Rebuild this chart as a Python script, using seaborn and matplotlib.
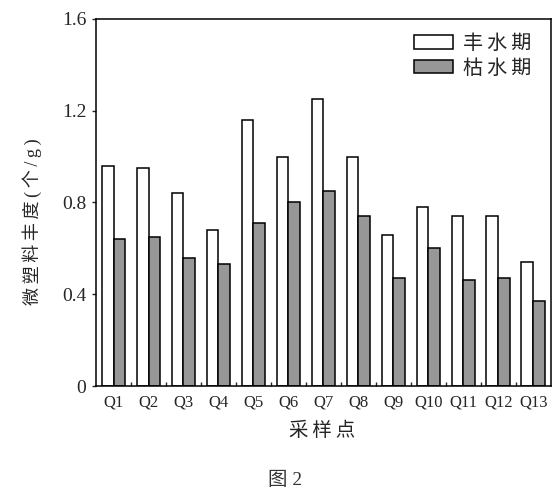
import numpy as np
import pandas as pd
import matplotlib
matplotlib.use("Agg")
import matplotlib.pyplot as plt
import seaborn as sns
from matplotlib.ticker import FixedLocator

sites = ["Q1", "Q2", "Q3", "Q4", "Q5", "Q6", "Q7", "Q8", "Q9", "Q10", "Q11", "Q12", "Q13"]
wet_season = [0.96, 0.95, 0.84, 0.68, 1.16, 1.00, 1.25, 1.00, 0.66, 0.78, 0.74, 0.74, 0.54]
dry_season = [0.64, 0.65, 0.56, 0.53, 0.71, 0.80, 0.85, 0.74, 0.47, 0.60, 0.46, 0.47, 0.37]
series_names = ["丰水期", "枯水期"]
y_ticks = [0, 0.4, 0.8, 1.2, 1.6]
y_tick_labels = ["0", "0.4", "0.8", "1.2", "1.6"]

df = pd.DataFrame({
    "site": sites * 2,
    "value": wet_season + dry_season,
    "season": [series_names[0]] * len(sites) + [series_names[1]] * len(sites),
})

sns.set_style("ticks")
plt.rcParams["font.family"] = ["Liberation Serif", "Noto Sans CJK SC", "DejaVu Sans"]
plt.rcParams["axes.unicode_minus"] = False

TS = "\u2009"

fig = plt.figure(figsize=(5.57, 4.94), dpi=100)
ax = fig.add_axes([0.1724, 0.2186, 0.8166, 0.743])

sns.barplot(data=df, x="site", y="value", hue="season", order=sites,
            hue_order=series_names, palette=["white", "#979797"],
            width=0.68, edgecolor="black", linewidth=1.1, saturation=1,
            ax=ax)

ax.set_xlim(-0.5, len(sites) - 0.5)
ax.set_ylim(0, 1.6)
ax.set_yticks(y_ticks)
ax.set_yticklabels(y_tick_labels)
ax.tick_params(axis="y", direction="out", length=3, width=1.0, labelsize=14, pad=4)
ax.tick_params(axis="x", which="major", length=0, labelsize=12, pad=6)
ax.xaxis.set_minor_locator(FixedLocator(np.arange(0.5, len(sites) - 0.5, 1.0)))
ax.tick_params(axis="x", which="minor", direction="in", length=3, width=1.0)
for s in ax.spines.values():
    s.set_visible(True)
    s.set_linewidth(1.1)
    s.set_color("black")

ax.set_xlabel(TS.join("采样点"), fontsize=14)
ax.xaxis.set_label_coords(0.497, -0.098)
ax.set_ylabel(TS.join("微塑料丰度") + TS + TS.join("(个/g)"), fontsize=13)
ax.yaxis.set_label_coords(-0.118, 0.447)

handles, labels = ax.get_legend_handles_labels()
leg = ax.legend(handles, [TS.join(l) for l in labels],
                loc="upper right", bbox_to_anchor=(0.958, 0.956),
                frameon=False, fontsize=14.5,
                handlelength=1.94, handleheight=0.68, labelspacing=0.27,
                handletextpad=0.5, borderaxespad=0, borderpad=0)

fig.text(0.512, 0.028, "图 2", fontsize=14, ha="center", va="center", color="#333333")

fig.savefig("out.png", dpi=100, facecolor="white")
